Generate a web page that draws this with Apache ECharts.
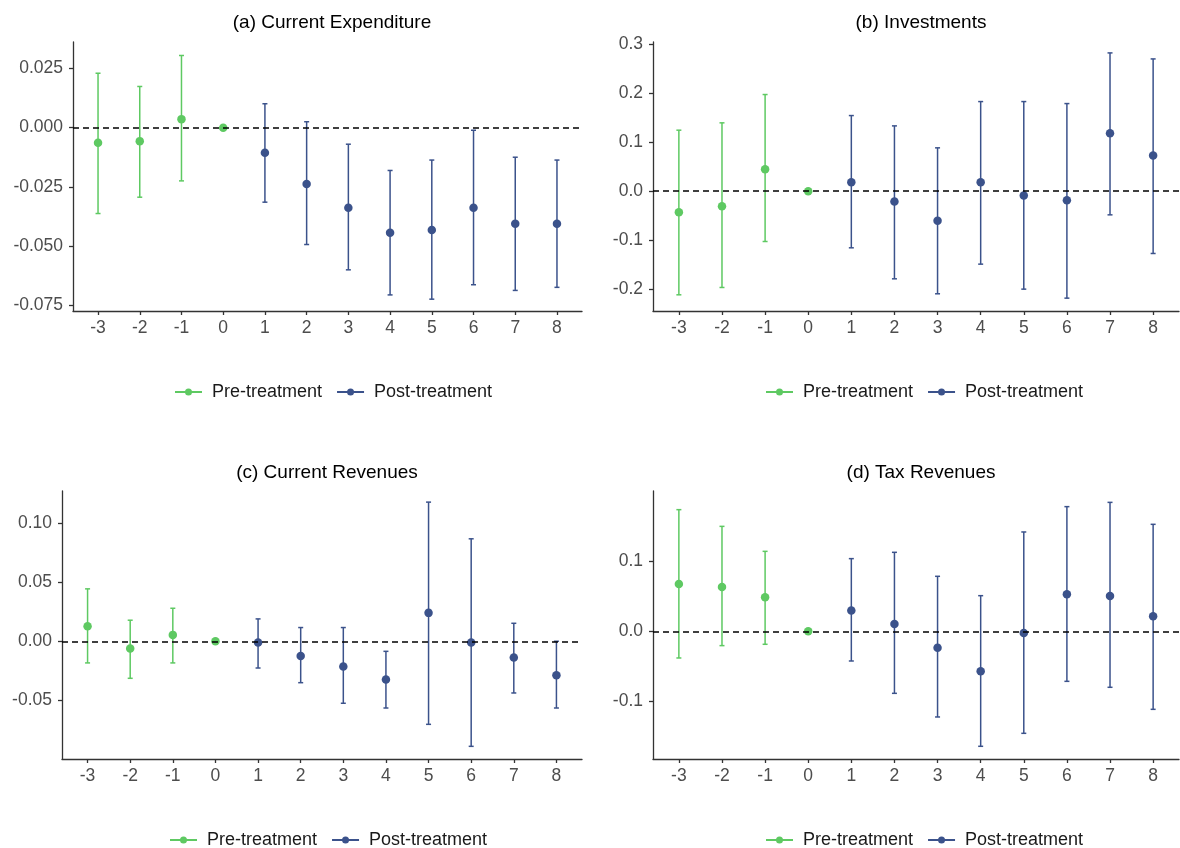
<!DOCTYPE html>
<html>
<head>
<meta charset="utf-8">
<script src="https://cdn.jsdelivr.net/npm/echarts@6/dist/echarts.min.js"></script>
<style>
html,body{margin:0;padding:0;background:#fff;}
#chart{width:1180px;height:848px;}
</style>
</head>
<body>
<div id="chart"></div>
<script>
// ---- Data ----
const periods = [-3, -2, -1, 0, 1, 2, 3, 4, 5, 6, 7, 8];
const legendNames = ['Pre-treatment', 'Post-treatment'];
const panelTitles = ['(a) Current Expenditure', '(b) Investments', '(c) Current Revenues', '(d) Tax Revenues'];

const expEst  = [-0.0064, -0.0057, 0.0036, 0, -0.0106, -0.0238, -0.0339, -0.0444, -0.0433, -0.0339, -0.0406, -0.0406];
const expHigh = [0.0230, 0.0174, 0.0305, 0, 0.0101, 0.0025, -0.0070, -0.0181, -0.0137, -0.0011, -0.0125, -0.0137];
const expLow  = [-0.0363, -0.0294, -0.0225, 0, -0.0315, -0.0494, -0.0601, -0.0707, -0.0725, -0.0664, -0.0688, -0.0675];

const invEst  = [-0.0429, -0.0307, 0.0450, 0, 0.0184, -0.0211, -0.0606, 0.0184, -0.0089, -0.0184, 0.1185, 0.0729];
const invHigh = [0.1247, 0.1397, 0.1976, 0, 0.1546, 0.1335, 0.0886, 0.1832, 0.1832, 0.1791, 0.2827, 0.2704];
const invLow  = [-0.2119, -0.1969, -0.1029, 0, -0.1158, -0.1792, -0.2098, -0.1492, -0.2003, -0.2187, -0.0484, -0.1274];

const revEst  = [0.0127, -0.0062, 0.0054, 0, -0.0011, -0.0124, -0.0214, -0.0324, 0.0240, -0.0011, -0.0138, -0.0288];
const revHigh = [0.0443, 0.0178, 0.0279, 0, 0.0189, 0.0116, 0.0116, -0.0085, 0.1176, 0.0866, 0.0152, 0.0000];
const revLow  = [-0.0183, -0.0313, -0.0183, 0, -0.0226, -0.0350, -0.0524, -0.0564, -0.0702, -0.0888, -0.0437, -0.0564];

const taxEst  = [0.0675, 0.0632, 0.0485, 0, 0.0295, 0.0105, -0.0233, -0.0570, -0.0024, 0.0527, 0.0504, 0.0214];
const taxHigh = [0.1734, 0.1496, 0.1140, 0, 0.1036, 0.1126, 0.0784, 0.0508, 0.1416, 0.1777, 0.1838, 0.1525];
const taxLow  = [-0.0380, -0.0204, -0.0185, 0, -0.0423, -0.0884, -0.1221, -0.1639, -0.1454, -0.0713, -0.0798, -0.1112];

const expTicks = [-0.075, -0.05, -0.025, 0, 0.025];
const invTicks = [-0.2, -0.1, 0, 0.1, 0.2, 0.3];
const revTicks = [-0.05, 0, 0.05, 0.10];
const taxTicks = [-0.1, 0, 0.1];

// ---- Layout / style ----
const GREEN = '#5ec962';
const BLUE = '#3b528b';
const FONT = 'Liberation Sans, Arial, sans-serif';

const panels = [
  {est: expEst, lo: expLow, hi: expHigh, ticks: expTicks, dec: 3, min: -0.0775, max: 0.0362,
   grid: {left: 73, top: 42, width: 509, height: 269}, titleX: 327, titleY: 8, legX: 170, legY: 378},
  {est: invEst, lo: invLow, hi: invHigh, ticks: invTicks, dec: 1, min: -0.245, max: 0.305,
   grid: {left: 653, top: 42, width: 526, height: 269}, titleX: 916, titleY: 8, legX: 761, legY: 378},
  {est: revEst, lo: revLow, hi: revHigh, ticks: revTicks, dec: 2, min: -0.0995, max: 0.127,
   grid: {left: 62, top: 491, width: 520, height: 268}, titleX: 322, titleY: 458, legX: 165, legY: 826},
  {est: taxEst, lo: taxLow, hi: taxHigh, ticks: taxTicks, dec: 1, min: -0.182, max: 0.200,
   grid: {left: 653, top: 491, width: 526, height: 268}, titleX: 916, titleY: 458, legX: 761, legY: 826}
];

function errRender(params, api) {
  const x = api.value(0), lo = api.value(1), hi = api.value(2);
  const pLo = api.coord([x, lo]);
  const pHi = api.coord([x, hi]);
  const w = 2.5;
  const style = {stroke: api.visual('color'), lineWidth: 1.5, fill: null};
  return {
    type: 'group',
    children: [
      {type: 'line', shape: {x1: pLo[0], y1: pLo[1], x2: pHi[0], y2: pHi[1]}, style: style},
      {type: 'line', shape: {x1: pLo[0] - w, y1: pLo[1], x2: pLo[0] + w, y2: pLo[1]}, style: style},
      {type: 'line', shape: {x1: pHi[0] - w, y1: pHi[1], x2: pHi[0] + w, y2: pHi[1]}, style: style}
    ]
  };
}

const legendIcon = 'path://M0,2.6 L27,2.6 L27,4.4 L0,4.4 Z M10,3.5 A3.5,3.5 0 1 1 17,3.5 A3.5,3.5 0 1 1 10,3.5 Z';

const option = {
  backgroundColor: '#ffffff',
  animation: false,
  textStyle: {fontFamily: FONT},
  title: [], legend: [], grid: [], xAxis: [], yAxis: [], series: []
};

panels.forEach((p, i) => {
  option.title.push({
    text: panelTitles[i], left: p.titleX, top: p.titleY, textAlign: 'center',
    textStyle: {fontFamily: FONT, fontSize: 19, fontWeight: 'normal', color: '#000'}
  });
  option.legend.push({
    left: p.legX, top: p.legY, orient: 'horizontal',
    itemWidth: 27, itemHeight: 7, itemGap: 15,
    icon: legendIcon,
    textStyle: {fontFamily: FONT, fontSize: 18, color: '#1a1a1a', padding: [0, 0, 0, 5]},
    data: [
      {name: legendNames[0], itemStyle: {color: GREEN}},
      {name: legendNames[1], itemStyle: {color: BLUE}}
    ],
    selectedMode: false
  });
  option.grid.push(Object.assign({containLabel: false}, p.grid));
  option.xAxis.push({
    type: 'value', gridIndex: i, min: -3.6, max: 8.6,
    axisLine: {show: true, onZero: false, lineStyle: {color: '#333', width: 1.3}},
    axisTick: {show: true, length: 4, customValues: periods, lineStyle: {color: '#333', width: 1.3}},
    axisLabel: {customValues: periods, color: '#4d4d4d', fontSize: 17.5, fontFamily: FONT, margin: 8,
                formatter: v => String(v)},
    splitLine: {show: false}
  });
  option.yAxis.push({
    type: 'value', gridIndex: i, min: p.min, max: p.max,
    axisLine: {show: true, onZero: false, lineStyle: {color: '#333', width: 1.3}},
    axisTick: {show: true, length: 4, customValues: p.ticks, lineStyle: {color: '#333', width: 1.3}},
    axisLabel: {customValues: p.ticks, color: '#4d4d4d', fontSize: 17.5, fontFamily: FONT, margin: 10,
                formatter: v => Number(v).toFixed(p.dec)},
    splitLine: {show: false}
  });

  const preErr = [], postErr = [], prePts = [], postPts = [];
  periods.forEach((t, k) => {
    if (t <= 0) { preErr.push([t, p.lo[k], p.hi[k]]); prePts.push([t, p.est[k]]); }
    else { postErr.push([t, p.lo[k], p.hi[k]]); postPts.push([t, p.est[k]]); }
  });

  // zero reference line
  option.series.push({
    type: 'line', name: 'zero', xAxisIndex: i, yAxisIndex: i, data: [], z: 1, silent: true,
    markLine: {
      silent: true, symbol: 'none', label: {show: false},
      lineStyle: {type: [6, 4], color: '#000', width: 1.5},
      data: [{yAxis: 0}]
    }
  });
  option.series.push({
    type: 'custom', name: legendNames[0], xAxisIndex: i, yAxisIndex: i, z: 2,
    itemStyle: {color: GREEN}, renderItem: errRender, encode: {x: 0, y: [1, 2]}, data: preErr
  });
  option.series.push({
    type: 'custom', name: legendNames[1], xAxisIndex: i, yAxisIndex: i, z: 2,
    itemStyle: {color: BLUE}, renderItem: errRender, encode: {x: 0, y: [1, 2]}, data: postErr
  });
  option.series.push({
    type: 'scatter', name: legendNames[0], xAxisIndex: i, yAxisIndex: i, z: 3,
    symbol: 'circle', symbolSize: 8.5, itemStyle: {color: GREEN, opacity: 1}, data: prePts
  });
  option.series.push({
    type: 'scatter', name: legendNames[1], xAxisIndex: i, yAxisIndex: i, z: 3,
    symbol: 'circle', symbolSize: 8.5, itemStyle: {color: BLUE, opacity: 1}, data: postPts
  });
});

const chart = echarts.init(document.getElementById('chart'), null, {renderer: 'canvas'});
chart.setOption(option);
</script>
</body>
</html>
